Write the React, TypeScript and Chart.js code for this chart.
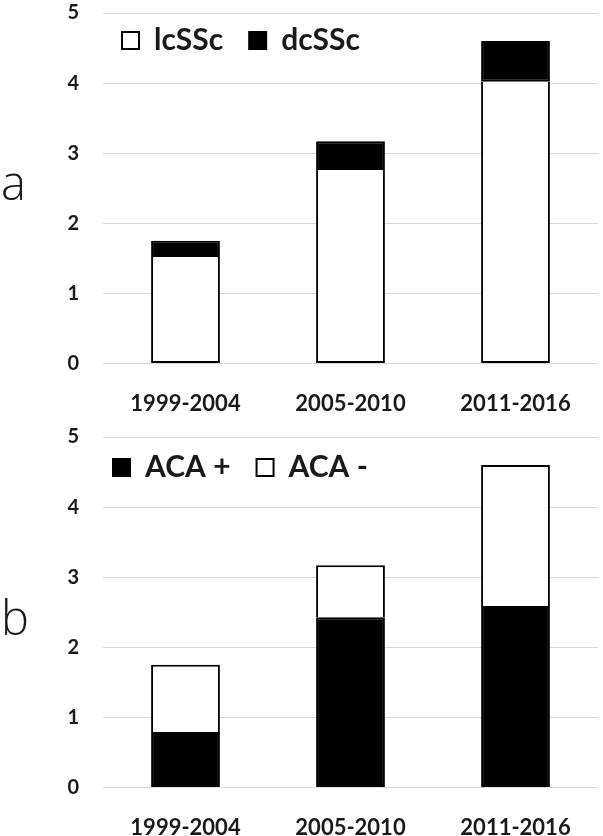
import React, { useEffect, useRef } from 'react';
import { Chart, registerables } from 'chart.js';

Chart.register(...registerables);

// ---- data ----
const categories = ['1999-2004', '2005-2010', '2011-2016'];
const lcSSc = [1.52, 2.76, 4.02];
const dcSSc = [0.23, 0.41, 0.58];
const acaPos = [0.79, 2.43, 2.59];
const acaNeg = [0.96, 0.74, 2.01];
const yMin = 0;
const yMax = 5;
const yStep = 1;

const FONT = 'Lato, "Open Sans", sans-serif';
const TEXT = '#1a1a1a';

// Lay the legend out as a single row placed inside the plot area.
const legendInside = {
  id: 'legendInside',
  beforeLayout(chart: any) {
    const l = chart.legend;
    if (l && !l.__rowPatched) {
      l.isHorizontal = () => true;
      l.__rowPatched = true;
    }
  },
  afterLayout(chart: any, _args: any, opts: any) {
    const l = chart.legend;
    if (!l) return;
    const ca = chart.chartArea;
    const dx = opts.dx || 0;
    const dy = opts.dy || 0;
    l.left = ca.left + dx;
    l.right = l.left + ca.width;
    l.width = ca.width;
    l.top = ca.top + dy;
    l.bottom = l.top + l.height;
  },
};

function BarPanel(props: { height: number; datasets: any[]; dx: number; dy: number }) {
  const ref = useRef<HTMLCanvasElement | null>(null);
  useEffect(() => {
    const H = props.height;
    const chart = new Chart(ref.current as HTMLCanvasElement, {
      type: 'bar',
      data: { labels: categories, datasets: props.datasets },
      options: {
        responsive: false,
        animation: false,
        layout: { padding: { top: 13, right: 5, left: 0, bottom: 0 } },
        scales: {
          x: {
            stacked: true,
            grid: { display: false },
            border: { display: false },
            ticks: { color: TEXT, padding: 19, font: { family: FONT, weight: 'bold', size: 22 } },
            afterFit: (s: any) => {
              s.height = H - 363.5;
            },
          },
          y: {
            stacked: true,
            min: yMin,
            max: yMax,
            ticks: { stepSize: yStep, color: TEXT, padding: 24, font: { family: FONT, weight: 'bold', size: 20 } },
            grid: { color: '#d9d9d9', lineWidth: 1, drawTicks: false },
            border: { display: false },
            afterFit: (s: any) => {
              s.width = 103;
              s.paddingTop = 0;
              s.paddingBottom = 0;
            },
          },
        },
        plugins: {
          legend: {
            position: 'chartArea',
            fullSize: false,
            align: 'start',
            labels: {
              color: TEXT,
              font: { family: FONT, weight: 'bold', size: 30 },
              boxWidth: 17,
              boxHeight: 17,
              padding: 26,
            },
          },
          tooltip: { enabled: false },
          legendInside: { dx: props.dx, dy: props.dy },
        } as any,
      },
      plugins: [legendInside as any],
    } as any);
    return () => chart.destroy();
  }, []);
  return <canvas ref={ref} width={603} height={props.height} style={{ display: 'block', width: 603, height: props.height }} />;
}

const common = {
  borderColor: '#000000',
  borderWidth: 2,
  barPercentage: 0.417,
  categoryPercentage: 1,
};

export default function App() {
  const dsA = [
    { ...common, label: 'lcSSc', data: lcSSc, backgroundColor: '#ffffff', borderSkipped: 'end' },
    { ...common, label: 'dcSSc', data: dcSSc, backgroundColor: '#000000', borderSkipped: false },
  ];
  const dsB = [
    { ...common, label: 'ACA +', data: acaPos, backgroundColor: '#000000', borderSkipped: false },
    { ...common, label: 'ACA -', data: acaNeg, backgroundColor: '#ffffff', borderSkipped: 'start' },
  ];
  const letter: React.CSSProperties = {
    position: 'absolute',
    left: 1,
    fontFamily: '"Open Sans", sans-serif',
    fontWeight: 300,
    fontSize: 47,
    lineHeight: '47px',
    color: '#1a1a1a',
  };
  return (
    <div style={{ position: 'absolute', left: 0, top: 0, width: 603, height: 836, background: '#fff' }}>
      <div style={{ position: 'absolute', left: 0, top: 0 }}>
        <BarPanel height={424} datasets={dsA} dx={-7} dy={-13.5} />
      </div>
      <div style={{ position: 'absolute', left: 0, top: 424 }}>
        <BarPanel height={412} datasets={dsB} dx={-16} dy={-10.5} />
      </div>
      <div style={{ ...letter, top: 159 }}>a</div>
      <div style={{ ...letter, top: 594 }}>b</div>
    </div>
  );
}
